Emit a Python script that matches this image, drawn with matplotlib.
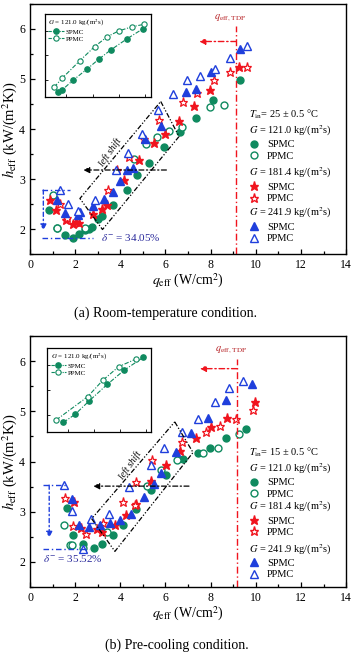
import numpy as np
import matplotlib
matplotlib.use("Agg")
import matplotlib.pyplot as plt
from matplotlib.lines import Line2D
from matplotlib.legend import Legend

plt.rcParams['font.family'] = ['Liberation Serif', 'DejaVu Serif']
plt.rcParams['mathtext.fontset'] = 'stix'

green = '#0f8a5f'
red = '#f0141e'
blue = '#1f3fdc'
navy = '#2a2a9c'
darkred = '#b8262a'

# ---- (a) room temperature ----
a_sp121_q = [0.85, 1.18, 1.55, 1.89, 2.18, 2.43, 2.60, 2.75, 3.02, 3.17, 3.66, 4.28, 4.74, 5.26, 5.92, 6.63, 7.34, 8.10, 9.28]
a_sp121_h = [2.39, 2.03, 1.88, 1.83, 1.91, 1.98, 2.00, 2.05, 2.21, 2.26, 2.48, 2.79, 3.08, 3.33, 3.65, 3.95, 4.23, 4.57, 4.97]
a_pp121_q = [1.03, 1.21, 2.43, 4.60, 5.13, 5.63, 6.16, 6.71, 7.96, 8.59]
a_pp121_h = [2.68, 2.03, 2.03, 3.41, 3.71, 3.85, 3.97, 4.05, 4.43, 4.47]
a_sp181_q = [0.88, 1.15, 1.59, 1.89, 2.05, 2.18, 2.80, 3.17, 3.42, 4.17, 4.83, 5.48, 5.97, 6.60, 7.25, 7.96, 9.24]
a_sp181_h = [2.58, 2.39, 2.18, 2.10, 2.15, 2.13, 2.31, 2.41, 2.48, 2.99, 3.38, 3.72, 3.90, 4.17, 4.45, 4.77, 5.23]
a_pp181_q = [1.33, 1.62, 3.46, 3.86, 4.39, 5.06, 5.72, 6.78, 7.41, 8.13, 8.87, 9.61]
a_pp181_h = [2.50, 2.23, 2.79, 3.19, 3.45, 3.80, 4.18, 4.54, 4.71, 4.97, 5.14, 5.23]
a_sp242_q = [1.18, 1.55, 2.14, 2.20, 2.80, 3.27, 3.69, 3.98, 4.31, 4.54, 5.08, 5.82, 6.93, 7.37, 8.03, 9.31]
a_sp242_h = [2.58, 2.33, 2.28, 2.35, 2.46, 2.61, 2.75, 2.97, 3.18, 3.23, 3.81, 4.06, 4.73, 4.79, 5.13, 5.59]
a_pp242_q = [1.33, 1.69, 2.14, 2.87, 3.83, 4.36, 4.98, 5.65, 6.34, 6.95, 7.52, 8.18, 8.84, 9.61]
a_pp242_h = [2.79, 2.51, 2.37, 2.59, 3.18, 3.53, 3.91, 4.38, 4.70, 4.97, 5.05, 5.19, 5.41, 5.65]

# inset (a), G = 121.0
a_in_sp_x = [1.23, 1.62, 2.65, 3.95, 5.08, 6.21, 7.77, 9.22]
a_in_sp_y = [0.56, 0.84, 2.01, 3.33, 4.54, 5.66, 7.02, 8.19]
a_in_pp_x = [0.87, 1.62, 3.30, 4.69, 5.89, 6.96, 8.25, 9.39]
a_in_pp_y = [1.17, 2.25, 4.37, 6.06, 7.27, 7.95, 8.47, 8.76]

# ---- (b) pre-cooling ----
b_sp121_q = [1.62, 1.89, 2.36, 2.83, 3.17, 3.66, 4.10, 4.69, 5.38, 6.01, 6.78, 7.44, 7.99, 8.69, 9.55]
b_sp121_h = [3.07, 2.53, 2.36, 2.27, 2.36, 2.53, 2.73, 3.05, 3.43, 3.74, 4.06, 4.16, 4.26, 4.46, 4.65]
b_pp121_q = [1.50, 1.77, 1.84, 2.36, 3.42, 5.19, 5.82, 6.49, 7.66, 8.33, 9.25]
b_pp121_h = [2.74, 2.34, 2.34, 2.27, 2.59, 3.51, 3.83, 4.03, 4.16, 4.27, 4.54]
b_sp181_q = [1.95, 2.25, 2.95, 3.21, 3.76, 4.27, 4.69, 5.34, 6.01, 6.66, 7.33, 8.03, 8.72, 9.95]
b_sp181_h = [3.19, 2.67, 2.66, 2.59, 2.73, 2.93, 3.16, 3.61, 3.94, 4.21, 4.47, 4.69, 4.87, 5.19]
b_pp181_q = [1.55, 1.89, 2.48, 3.24, 4.10, 4.64, 4.70, 5.42, 6.75, 7.81, 8.40, 9.11, 9.87]
b_pp181_h = [3.27, 2.71, 2.56, 2.78, 3.19, 3.14, 3.60, 4.03, 4.38, 4.58, 4.71, 4.85, 5.03]
b_sp242_q = [1.84, 2.18, 2.62, 3.09, 3.54, 3.98, 4.47, 5.04, 5.48, 5.79, 6.45, 7.15, 7.88, 8.66, 9.83]
b_sp242_h = [3.26, 2.74, 2.69, 2.73, 2.78, 2.83, 2.96, 3.29, 3.55, 3.78, 4.18, 4.56, 4.87, 5.23, 5.54]
b_pp242_q = [1.50, 1.84, 2.36, 2.70, 3.49, 4.38, 5.38, 5.92, 6.71, 7.44, 8.18, 8.81, 9.43]
b_pp242_h = [3.53, 3.01, 2.26, 2.85, 2.96, 3.49, 3.94, 4.26, 4.58, 4.85, 5.19, 5.46, 5.61]

# inset (b)
b_in_sp_x = [1.57, 2.69, 4.07, 5.80, 7.40, 9.26]
b_in_sp_y = [1.15, 2.10, 3.73, 5.68, 7.34, 8.89]
b_in_pp_x = [0.87, 3.91, 5.35, 6.89, 8.56]
b_in_pp_y = [1.43, 4.21, 6.15, 7.78, 8.69]

labels_G = ['121.0', '181.4', '241.9']
T_in = ['25', '15']
deltas = ['34.05', '35.52']
captions = ['(a) Room-temperature condition.', '(b) Pre-cooling condition.']

fig = plt.figure(figsize=(3.56, 6.54), dpi=100)
ax_a = fig.add_axes([0.0843, 0.6116, 0.888, 0.3823])
ax_b = fig.add_axes([0.0843, 0.1024, 0.888, 0.3838])

dashdotdot = (0, (4, 1.5, 1, 1.5, 1, 1.5))


def draw_panel(ax, series, inset, tdp_x, arrow_y, rect, shift_txt, blk_arrow, bluebox, k):
    (sp1, pp1, sp2, pp2, sp3, pp3) = series
    ax.plot(*sp1, 'o', color=green, ms=5, ls='none')
    ax.plot(*pp1, 'o', mec=green, mfc='white', mew=1.0, ms=5, ls='none')
    ax.plot(*sp2, '*', color=red, ms=6.5, ls='none')
    ax.plot(*pp2, '*', mec=red, mfc='white', mew=0.9, ms=6.5, ls='none')
    ax.plot(*sp3, '^', color=blue, ms=5.5, ls='none')
    ax.plot(*pp3, '^', mec=blue, mfc='white', mew=1.0, ms=5.5, ls='none')

    ax.set_xlim(0, 14)
    ax.set_ylim(1.5, 6.5)
    ax.set_xticks(np.arange(0, 15, 2))
    ax.set_xticks(np.arange(1, 14, 2), minor=True)
    ax.set_yticks([2, 3, 4, 5, 6])
    ax.set_yticks(np.arange(1.5, 6.6, 0.5), minor=True)
    ax.tick_params(which='both', direction='in', labelsize=8.5, width=0.9)
    ax.tick_params(which='major', length=3.5)
    ax.tick_params(which='minor', length=2)
    for s in ax.spines.values():
        s.set_linewidth(1.0)
    ax.set_xlabel(r'$q_{\rm eff}$ (W/cm$^2$)', fontsize=10, labelpad=1)
    ax.set_ylabel(r'$h_{\rm eff}$ (kW/(m$^2$K))', fontsize=10.5)
    ax.yaxis.set_label_coords(-0.036, 0.5)

    # TDP line and arrow
    ax.plot([tdp_x, tdp_x], [1.5, 6.05], color=red, lw=1.0, ls=(0, (5, 2, 1, 2)))
    ax.text(tdp_x - 0.25, 6.12, r'$q_{\rm eff,\,TDP}$', color=darkred, fontsize=7.5,
            ha='center', va='bottom')
    ax.annotate('', xy=(tdp_x - 1.65, arrow_y), xytext=(tdp_x, arrow_y),
                arrowprops=dict(arrowstyle='-|>', color=red, lw=1.0, ls=(0, (4, 2, 1, 2)),
                                mutation_scale=9, shrinkA=0, shrinkB=0))

    # left shift box
    rx = [p[0] for p in rect] + [rect[0][0]]
    ry = [p[1] for p in rect] + [rect[0][1]]
    ax.plot(rx, ry, color='black', lw=0.9, ls=dashdotdot)
    ax.text(shift_txt[0], shift_txt[1], 'left shift', style='italic', fontsize=7,
            rotation=55, ha='center', va='center')
    ax.annotate('', xy=(blk_arrow[1], blk_arrow[2]), xytext=(blk_arrow[0], blk_arrow[2]),
                arrowprops=dict(arrowstyle='-|>', color='black', lw=0.9, ls=(0, (4, 2, 1, 2)),
                                mutation_scale=9, shrinkA=0, shrinkB=0))

    # blue reduction marker
    x0, xt, xb, ytop, ybot, xa, ya, txt_xy, txt_ha = bluebox
    ax.plot([x0, xt], [ytop, ytop], color=blue, lw=1.0, ls=(0, (4, 2, 1, 2)))
    ax.plot([x0, xb], [ybot, ybot], color=blue, lw=1.0, ls=(0, (4, 2, 1, 2)))
    ax.annotate('', xy=(xa, ya), xytext=(xa, ytop),
                arrowprops=dict(arrowstyle='-|>', color=blue, lw=1.0, ls=(0, (3, 2, 1, 2)),
                                mutation_scale=9, shrinkA=0, shrinkB=0))
    ax.text(txt_xy[0], txt_xy[1], r'$\delta^{-}$ = ' + deltas[k] + '%', color=navy,
            fontsize=8, ha=txt_ha, va='center')

    # right-hand legends
    hdr = [r'$T_{\rm in}$= ' + T_in[k] + ' ± 0.5 °C\n$G$ = ' + labels_G[0] + ' kg/(m$^2$s)',
           r'$G$ = ' + labels_G[1] + ' kg/(m$^2$s)',
           r'$G$ = ' + labels_G[2] + ' kg/(m$^2$s)']
    styles = [dict(marker='o', ms=5, color=green), dict(marker='*', ms=6.5, color=red),
              dict(marker='^', ms=5.5, color=blue)]
    tops = [0.584, 0.352, 0.192] if k == 0 else [0.562, 0.347, 0.179]
    for i in range(3):
        st = styles[i]
        h_sp = Line2D([], [], ls='none', marker=st['marker'], ms=st['ms'], color=st['color'])
        h_pp = Line2D([], [], ls='none', marker=st['marker'], ms=st['ms'], mec=st['color'],
                      mfc='white', mew=1.0)
        leg = Legend(ax, [h_sp, h_pp], ['SPMC', 'PPMC'], title=hdr[i], loc='upper left',
                     bbox_to_anchor=(0.693, tops[i]), frameon=False, fontsize=7.5,
                     title_fontsize=7.5, alignment='left', borderpad=0, borderaxespad=0,
                     handlelength=1.0, handletextpad=0.7, labelspacing=0.2)
        ax.add_artist(leg)

    # inset
    ins = ax.inset_axes(inset)
    ix_sp, iy_sp, ix_pp, iy_pp = ins_data[k]
    ins.plot(ix_sp, iy_sp, color=green, lw=0.8, ls=(0, (4, 1.5, 1, 1.5)), marker='o', ms=3.8)
    ins.plot(ix_pp, iy_pp, color=green, lw=0.8, ls=(0, (4, 1.5, 1, 1.5)), marker='o', ms=3.8,
             mfc='white', mew=0.8)
    ins.set_xlim(0, 10)
    ins.set_ylim(0, 10)
    ins.set_xticks([2, 4.5, 7, 9.5])
    ins.set_yticks([2, 5, 8])
    ins.tick_params(direction='in', length=2, width=0.6, labelbottom=False, labelleft=False)
    for s in ins.spines.values():
        s.set_linewidth(0.9)
    hs = Line2D([], [], color=green, lw=0.8, ls=(0, (3, 1, 1, 1)), marker='o', ms=3.8)
    hp = Line2D([], [], color=green, lw=0.8, ls=(0, (3, 1, 1, 1)), marker='o', ms=3.8,
                mfc='white', mew=0.8)
    ins.legend([hs, hp], ['SPMC', 'PPMC'], title=r'$G$ = ' + labels_G[0] + ' kg/(m$^2$s)',
               loc='upper left', frameon=False, fontsize=5, title_fontsize=5,
               alignment='left', borderpad=0.3, borderaxespad=0.2, handlelength=2.2,
               handletextpad=0.3, labelspacing=0.15)


ins_data = [(a_in_sp_x, a_in_sp_y, a_in_pp_x, a_in_pp_y),
            (b_in_sp_x, b_in_sp_y, b_in_pp_x, b_in_pp_y)]

draw_panel(ax_a,
           [(a_sp121_q, a_sp121_h), (a_pp121_q, a_pp121_h), (a_sp181_q, a_sp181_h),
            (a_pp181_q, a_pp181_h), (a_sp242_q, a_sp242_h), (a_pp242_q, a_pp242_h)],
           [0.047, 0.628, 0.335, 0.332], 9.14, 5.75,
           [(5.79, 4.55), (6.60, 3.85), (3.21, 1.99), (2.21, 2.61)], (3.57, 3.53),
           (6.04, 2.36, 3.18),
           (0.52, 1.77, 2.80, 2.78, 1.83, 0.59, 1.97, (3.15, 1.83), 'left'), 0)

draw_panel(ax_b,
           [(b_sp121_q, b_sp121_h), (b_pp121_q, b_pp121_h), (b_sp181_q, b_sp181_h),
            (b_pp181_q, b_pp181_h), (b_sp242_q, b_sp242_h), (b_pp242_q, b_pp242_h)],
           [0.054, 0.6175, 0.329, 0.335], 9.17, 5.85,
           [(6.41, 4.79), (7.22, 4.18), (3.76, 2.21), (2.73, 2.86)], (4.45, 3.93),
           (7.04, 2.80, 3.51),
           (0.56, 1.60, 2.60, 3.53, 2.26, 0.85, 2.48, (0.56, 2.06), 'left'), 1)

fig.text(165.5 / 356, 1 - 313 / 654, captions[0], ha='center', va='center', fontsize=10)
fig.text(176.8 / 356, 1 - 645 / 654, captions[1], ha='center', va='center', fontsize=10)

fig.savefig('out.png', dpi=100)
